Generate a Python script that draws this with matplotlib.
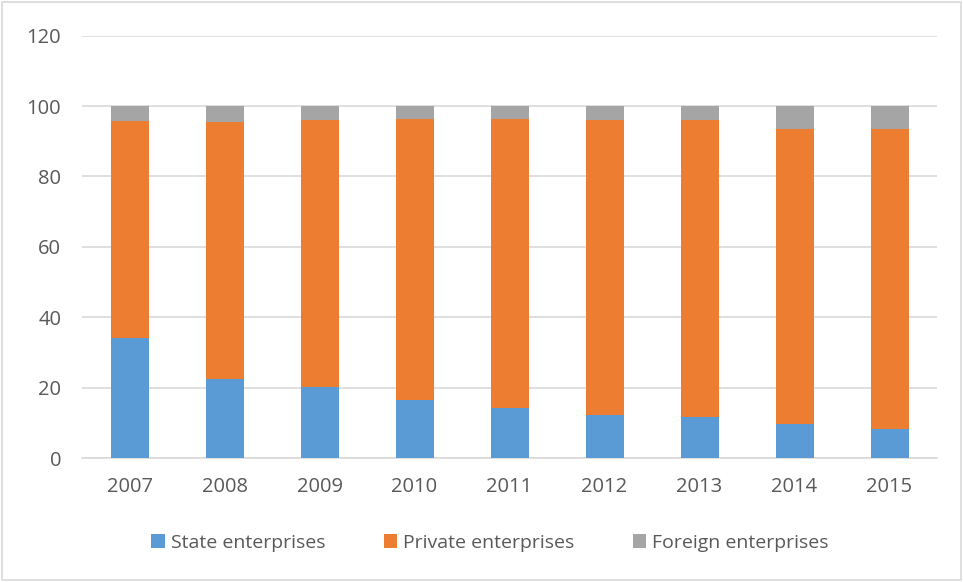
import numpy as np
import matplotlib.pyplot as plt
from matplotlib.patches import Rectangle

plt.rcParams['font.family'] = ['Open Sans', 'DejaVu Sans']

years = ['2007', '2008', '2009', '2010', '2011', '2012', '2013', '2014', '2015']
state = [34.0, 22.4, 20.1, 16.5, 14.1, 12.1, 11.7, 9.7, 8.2]
state_private_top = [95.7, 95.5, 95.9, 96.4, 96.4, 95.9, 95.9, 93.6, 93.6]
private = [t - s for t, s in zip(state_private_top, state)]
foreign = [100 - t for t in state_private_top]

fig = plt.figure(figsize=(9.63, 5.82), dpi=100)
ax = fig.add_axes([82/963, 1-458/582, (937-82)/963, (458-35.6)/582])

x = np.arange(len(years))
w = 0.4
ax.bar(x, state, w, color='#5b9bd5', label='State enterprises', zorder=3)
ax.bar(x, private, w, bottom=state, color='#ed7d31', label='Private enterprises', zorder=3)
ax.bar(x, foreign, w, bottom=state_private_top, color='#a5a5a5', label='Foreign enterprises', zorder=3)

ax.set_xlim(-0.5, len(years) - 0.5)
ax.set_ylim(0, 120)
ax.set_yticks(range(0, 121, 20))
ax.set_xticks(x)
ax.set_xticklabels(years)
ax.yaxis.grid(True, color='#d9d9d9', linewidth=1.2, zorder=0)
for s in ['top', 'right', 'left']:
    ax.spines[s].set_visible(False)
ax.spines['bottom'].set_color('#d9d9d9')
ax.spines['bottom'].set_linewidth(1.2)
ax.tick_params(length=0, labelsize=14.5, labelcolor='#595959')
ax.tick_params(axis='y', pad=15)
ax.tick_params(axis='x', pad=14)

fig.legend(loc='center', bbox_to_anchor=(490/963, 1-543/582), ncol=3, frameon=False,
           fontsize=14, labelcolor='#595959', handlelength=0.7, handleheight=0.7,
           handletextpad=0.3, columnspacing=3.0)

fig.patches.append(Rectangle((0.002, 0.003), 0.996, 0.994, transform=fig.transFigure,
                             fill=False, edgecolor='#d9d9d9', linewidth=1.2))

plt.savefig('out.png')
